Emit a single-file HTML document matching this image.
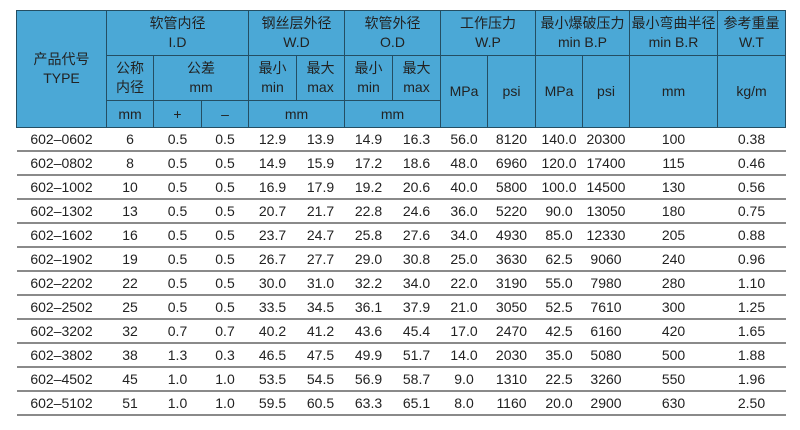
<!DOCTYPE html>
<html><head><meta charset="utf-8"><style>
html,body{margin:0;padding:0;background:#fff;width:800px;height:430px;overflow:hidden}
table{position:absolute;left:16px;top:10px;border-collapse:collapse;table-layout:fixed;width:769px;font-family:"Liberation Sans","Noto Sans CJK SC",sans-serif;color:#222}
th{background:#4ba8d6;border:1px solid #244e63;font-weight:normal;font-size:14px;line-height:19px;padding:0;text-align:center}
td{font-size:14px;text-align:center;padding:0;height:22px;border-bottom:2px solid #8a8a8a}
tr.h1 th{height:44px}
tr.h2 th{height:44px}
tr.h3 th{height:26px}
</style></head><body>
<table>
<colgroup>
<col style="width:90px"><col style="width:47px"><col style="width:48px"><col style="width:47px"><col style="width:48px"><col style="width:48px"><col style="width:48px"><col style="width:48px"><col style="width:47px"><col style="width:48px"><col style="width:47px"><col style="width:47px"><col style="width:88px"><col style="width:68px">
</colgroup>
<tr class="h1"><th rowspan="3">产品代号<br>TYPE</th><th colspan="3">软管内径<br>I.D</th><th colspan="2">钢丝层外径<br>W.D</th><th colspan="2">软管外径<br>O.D</th><th colspan="2">工作压力<br>W.P</th><th colspan="2">最小爆破压力<br>min B.P</th><th>最小弯曲半径<br>min B.R</th><th>参考重量<br>W.T</th></tr>
<tr class="h2"><th>公称<br>内径</th><th colspan="2">公差<br>mm</th><th>最小<br>min</th><th>最大<br>max</th><th>最小<br>min</th><th>最大<br>max</th><th rowspan="2">MPa</th><th rowspan="2">psi</th><th rowspan="2">MPa</th><th rowspan="2">psi</th><th rowspan="2">mm</th><th rowspan="2">kg/m</th></tr>
<tr class="h3"><th>mm</th><th>+</th><th>–</th><th colspan="2">mm</th><th colspan="2">mm</th></tr>
<tr><td>602–0602</td><td>6</td><td>0.5</td><td>0.5</td><td>12.9</td><td>13.9</td><td>14.9</td><td>16.3</td><td>56.0</td><td>8120</td><td>140.0</td><td>20300</td><td>100</td><td>0.38</td></tr>
<tr><td>602–0802</td><td>8</td><td>0.5</td><td>0.5</td><td>14.9</td><td>15.9</td><td>17.2</td><td>18.6</td><td>48.0</td><td>6960</td><td>120.0</td><td>17400</td><td>115</td><td>0.46</td></tr>
<tr><td>602–1002</td><td>10</td><td>0.5</td><td>0.5</td><td>16.9</td><td>17.9</td><td>19.2</td><td>20.6</td><td>40.0</td><td>5800</td><td>100.0</td><td>14500</td><td>130</td><td>0.56</td></tr>
<tr><td>602–1302</td><td>13</td><td>0.5</td><td>0.5</td><td>20.7</td><td>21.7</td><td>22.8</td><td>24.6</td><td>36.0</td><td>5220</td><td>90.0</td><td>13050</td><td>180</td><td>0.75</td></tr>
<tr><td>602–1602</td><td>16</td><td>0.5</td><td>0.5</td><td>23.7</td><td>24.7</td><td>25.8</td><td>27.6</td><td>34.0</td><td>4930</td><td>85.0</td><td>12330</td><td>205</td><td>0.88</td></tr>
<tr><td>602–1902</td><td>19</td><td>0.5</td><td>0.5</td><td>26.7</td><td>27.7</td><td>29.0</td><td>30.8</td><td>25.0</td><td>3630</td><td>62.5</td><td>9060</td><td>240</td><td>0.96</td></tr>
<tr><td>602–2202</td><td>22</td><td>0.5</td><td>0.5</td><td>30.0</td><td>31.0</td><td>32.2</td><td>34.0</td><td>22.0</td><td>3190</td><td>55.0</td><td>7980</td><td>280</td><td>1.10</td></tr>
<tr><td>602–2502</td><td>25</td><td>0.5</td><td>0.5</td><td>33.5</td><td>34.5</td><td>36.1</td><td>37.9</td><td>21.0</td><td>3050</td><td>52.5</td><td>7610</td><td>300</td><td>1.25</td></tr>
<tr><td>602–3202</td><td>32</td><td>0.7</td><td>0.7</td><td>40.2</td><td>41.2</td><td>43.6</td><td>45.4</td><td>17.0</td><td>2470</td><td>42.5</td><td>6160</td><td>420</td><td>1.65</td></tr>
<tr><td>602–3802</td><td>38</td><td>1.3</td><td>0.3</td><td>46.5</td><td>47.5</td><td>49.9</td><td>51.7</td><td>14.0</td><td>2030</td><td>35.0</td><td>5080</td><td>500</td><td>1.88</td></tr>
<tr><td>602–4502</td><td>45</td><td>1.0</td><td>1.0</td><td>53.5</td><td>54.5</td><td>56.9</td><td>58.7</td><td>9.0</td><td>1310</td><td>22.5</td><td>3260</td><td>550</td><td>1.96</td></tr>
<tr><td>602–5102</td><td>51</td><td>1.0</td><td>1.0</td><td>59.5</td><td>60.5</td><td>63.3</td><td>65.1</td><td>8.0</td><td>1160</td><td>20.0</td><td>2900</td><td>630</td><td>2.50</td></tr>
</table>
</body></html>
